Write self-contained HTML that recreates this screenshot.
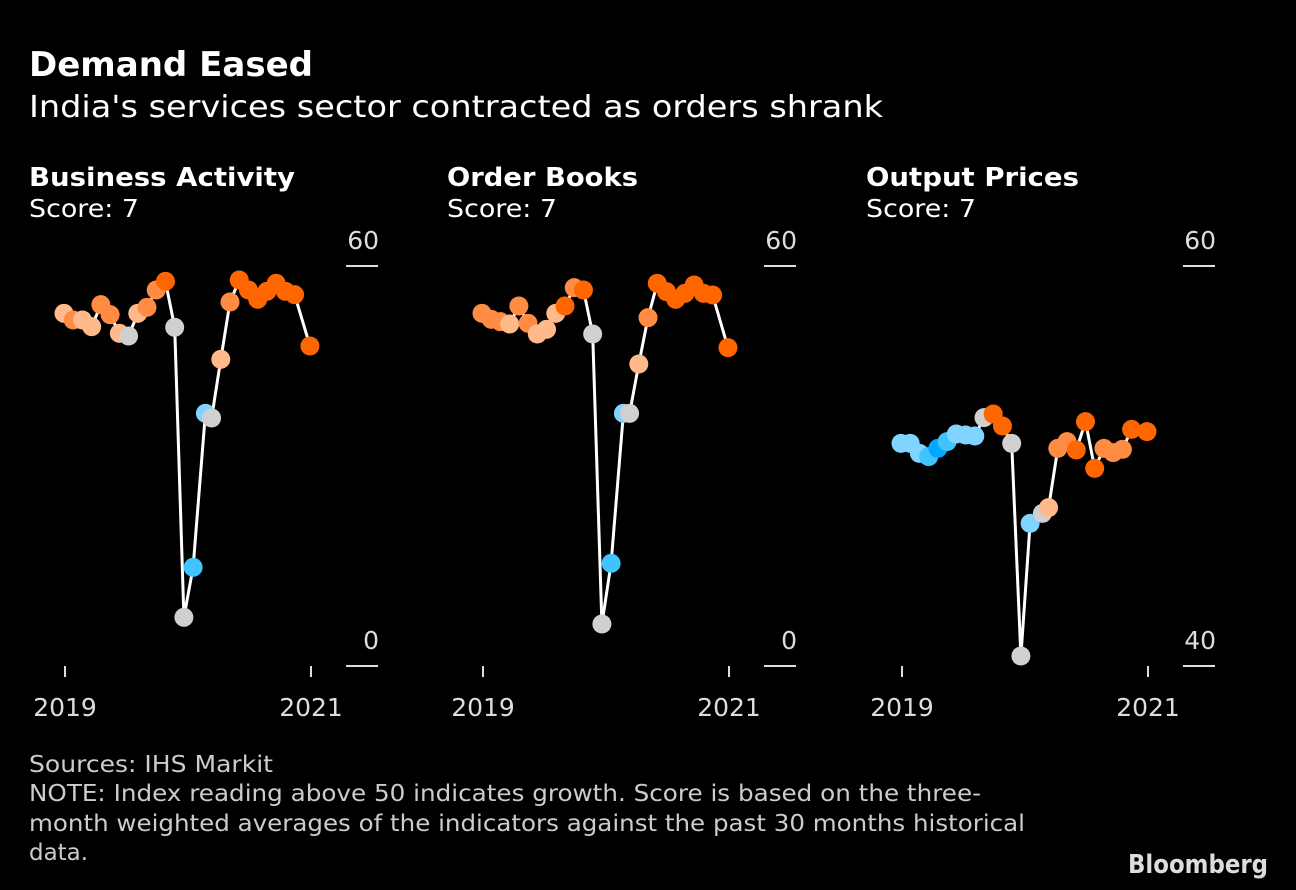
<!DOCTYPE html>
<html><head><meta charset="utf-8"><style>
html,body{margin:0;padding:0;background:#000;width:1296px;height:890px;overflow:hidden}
svg{display:block}
text{font-family:"DejaVu Sans","Liberation Sans",sans-serif}
</style></head><body>
<svg id="chart" width="1296" height="890" viewBox="0 0 1296 890" xmlns="http://www.w3.org/2000/svg">
<rect width="1296" height="890" fill="#000"/>
<text x="29" y="76" fill="#fff" font-size="34" font-weight="bold" textLength="284" lengthAdjust="spacingAndGlyphs">Demand Eased</text>
<text x="29" y="117" fill="#fff" font-size="30" textLength="854" lengthAdjust="spacingAndGlyphs">India's services sector contracted as orders shrank</text>
<text x="29" y="772" fill="#ccc" font-size="23" textLength="244" lengthAdjust="spacingAndGlyphs">Sources: IHS Markit</text>
<text x="29" y="801" fill="#ccc" font-size="23" textLength="952" lengthAdjust="spacingAndGlyphs">NOTE: Index reading above 50 indicates growth. Score is based on the three-</text>
<text x="29" y="831" fill="#ccc" font-size="23" textLength="996" lengthAdjust="spacingAndGlyphs">month weighted averages of the indicators against the past 30 months historical</text>
<text x="29" y="860" fill="#ccc" font-size="23" textLength="59" lengthAdjust="spacingAndGlyphs">data.</text>
<text x="1128" y="873" fill="#ddd" font-size="26" font-weight="bold" textLength="140" lengthAdjust="spacingAndGlyphs">Bloomberg</text>
</svg>
<script>
const months = [-0.1,0.8,1.7,2.6,3.5,4.4,5.3,6.2,7.1,8.0,8.9,9.8,10.7,11.6,12.5,13.7,14.3,15.2,16.1,17.0,17.9,18.8,19.7,20.6,21.5,22.4,23.9];
const businessActivity = [52.9,51.9,51.9,50.9,54.2,52.7,49.9,49.5,52.9,53.8,56.4,57.7,50.8,7.3,14.8,37.9,37.2,46.0,54.6,57.9,56.4,55.0,56.2,57.4,56.2,55.7,48.0];
const businessColors = ['p','m','p','p','m','m','p','g','p','m','m','o','g','g','b2','lb','g','p','m','o','o','o','o','o','o','o','o'];
const orderBooks = [52.9,52.0,51.65,51.3,54.0,51.4,49.8,50.5,52.9,54.0,56.75,56.4,49.8,6.3,15.4,37.9,37.9,45.3,52.25,57.4,56.15,55.0,55.9,57.15,55.9,55.65,47.75];
const orderColors = ['m','m','m','p','m','m','p','p','p','o','m','o','g','g','b2','lb','g','p','m','o','o','o','o','o','o','o','o'];
const outputPrices = [51.13,51.13,50.63,50.47,50.88,51.22,51.6,51.55,51.5,52.42,52.6,52.0,51.13,40.5,47.13,47.63,47.92,50.88,51.22,50.8,52.22,49.88,50.88,50.67,50.83,51.83,51.72];
const outputColors = ['lb','lb','lb','b2','b','b2','lb','lb','lb','g','o','o','g','g','lb','g','p','m','m','o','o','o','m','m','m','o','o'];
const panelTitles = ['Business Activity','Order Books','Output Prices'];
const scoreLabels = ['Score: 7','Score: 7','Score: 7'];
const yMins = [0,0,40];
const yMaxs = [60,60,60];
const xTickLabels = ['2019','2021'];
const xTickMonths = [0,24];

const titleWidths = [266,191,213];
const palette = {p:'#ffb98a',m:'#ff8c42',o:'#ff6600',g:'#d0d0d0',lb:'#80d4ff',b2:'#40c4ff',b:'#00aaff'};
const svg = document.getElementById('chart');
const NS = 'http://www.w3.org/2000/svg';
function mk(tag, attrs, parent){const e=document.createElementNS(NS,tag);for(const k in attrs)e.setAttribute(k,attrs[k]);(parent||svg).appendChild(e);return e;}
const series=[businessActivity,orderBooks,outputPrices];
const colors=[businessColors,orderColors,outputColors];
const offsets=[0,418,837];
series.forEach((vals,pi)=>{
  const ox=offsets[pi];
  const g=mk('g',{});
  
  
  const xs=m=>ox+65+m*(246/24);
  const ys=v=>666-(v-yMins[pi])/(yMaxs[pi]-yMins[pi])*400;
  const t=mk('text',{x:ox+29,y:186,fill:'#fff','font-size':26,'font-weight':'bold',textLength:titleWidths[pi],lengthAdjust:'spacingAndGlyphs'},g);
  t.textContent=panelTitles[pi];
  
  
  const s=mk('text',{x:ox+29,y:217,fill:'#fff','font-size':25,textLength:110,lengthAdjust:'spacingAndGlyphs'},g);
  s.textContent=scoreLabels[pi];
  
  
  [yMaxs[pi],yMins[pi]].forEach(v=>{
    const yy=ys(v);
    const l=mk('line',{x1:ox+346,x2:ox+378,y1:yy,y2:yy,stroke:'#ddd','stroke-width':2},g);
    
    
    const tx=mk('text',{x:ox+379,y:yy-17,fill:'#ddd','font-size':25,'text-anchor':'end'},g);
    tx.textContent=String(v);
    
    
  });
  xTickMonths.forEach((m,i)=>{
    const xx=xs(m);
    const l=mk('line',{x1:xx,x2:xx,y1:666,y2:677,stroke:'#ddd','stroke-width':2},g);
    
    
    const tx=mk('text',{x:xx,y:716,fill:'#ddd','font-size':25,'text-anchor':'middle'},g);
    tx.textContent=xTickLabels[i];
    
    
  });
  const pts=vals.map((v,i)=>xs(months[i]).toFixed(1)+','+ys(v).toFixed(1)).join(' ');
  const pl=mk('polyline',{points:pts,fill:'none',stroke:'#fff','stroke-width':3,'stroke-linejoin':'round'},g);
  
  
  vals.forEach((v,i)=>{
    const c=mk('circle',{cx:xs(months[i]),cy:ys(v),r:9.5,fill:palette[colors[pi][i]]},g);
    
    
  });
});
</script>
</body></html>
